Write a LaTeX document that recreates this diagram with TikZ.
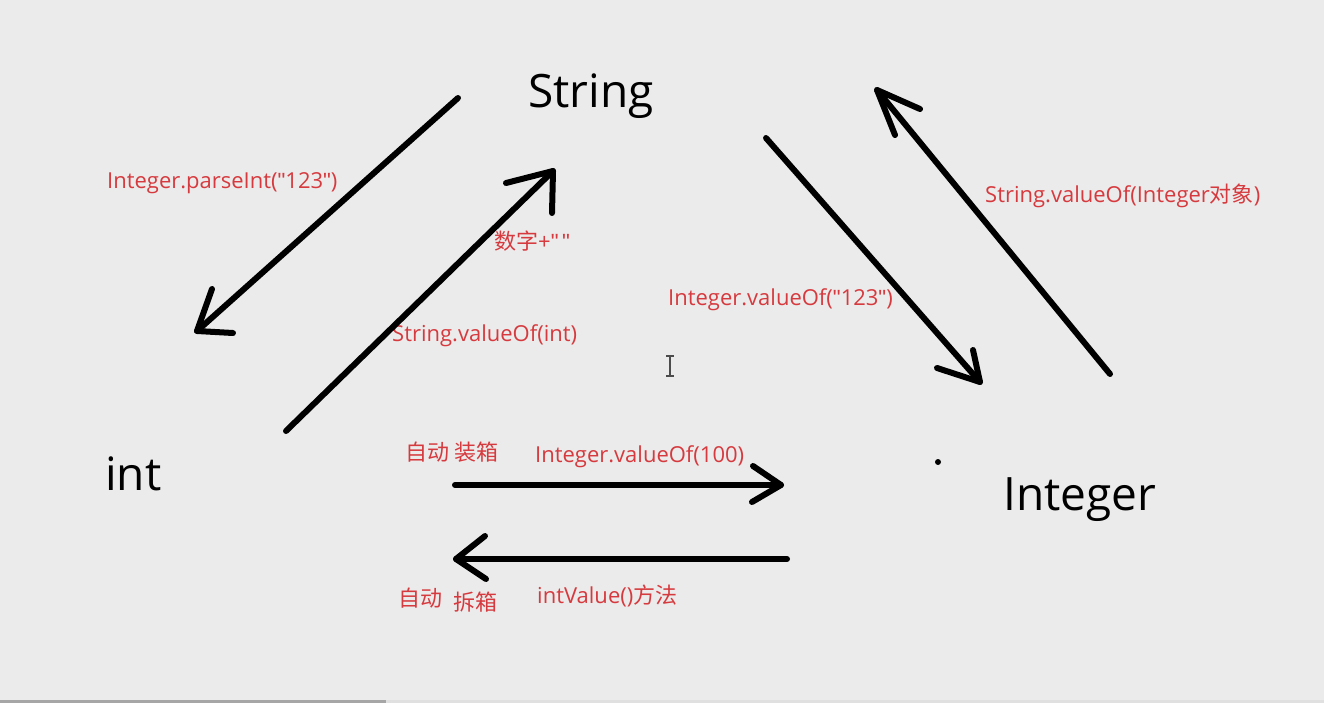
\documentclass[tikz,border=0pt]{standalone}
\usepackage{fontspec}
\setmainfont{Open Sans}
\newfontfamily\cjk{Noto Sans CJK SC}
\newfontfamily\qfont{Liberation Sans}
\newcommand{\dq}{{\qfont\symbol{34}}}
\definecolor{bg}{RGB}{235,235,235}
\definecolor{lblred}{RGB}{214,58,62}
\begin{document}
\begin{tikzpicture}[x=1pt,y=-1pt,
  big/.style={anchor=base west,inner sep=0pt,font=\fontsize{46}{50}\selectfont,text=black},
  lbl/.style={anchor=base west,inner sep=0pt,font=\fontsize{22}{24}\selectfont,text=lblred},
  stroke/.style={line width=6pt,line cap=round,line join=round,black}]
\fill[bg] (0,0) rectangle (1324,703);
\useasboundingbox (0,0) rectangle (1324,703);
\fill[black!35] (0,700) rectangle (386,703);
\fill[black!12] (386,700) rectangle (1324,703);

% main nodes
\node[big] (str) at (528,108) {String};
\node[big] (int) at (105,490) {int};
\node[big] (intg) at (1003,510) {Integer};

% labels
\node[lbl] (l1) at (107,189) {Integer.parseInt(\dq123\dq)};
\node[lbl] (l2) at (494,250) {{\cjk 数字}+\dq\,\dq};
\node[lbl] (l3) at (392,341) {String.valueOf(int)};
\node[lbl] (l4) at (668,305) {Integer.valueOf(\dq123\dq)};
\node[lbl] (l5) at (985,203) {String.valueOf(Integer{\cjk 对象})};
\node[lbl] (l6) at (405,460) {\cjk 自动 装箱};
\node[lbl] (l7) at (535,462) {Integer.valueOf(100)};
\node[lbl] (l8) at (398,606) {\cjk 自动};
\node[lbl] (l9) at (453,610) {\cjk 拆箱};
\node[lbl] (l10) at (537,603) {intValue(){\cjk 方法}};

% arrow 1: String -> int
\coordinate (s1) at (458,98);  \coordinate (t1) at (197,331);
\coordinate (a1) at (212,289); \coordinate (b1) at (233,333);
% arrow 2: int -> String
\coordinate (s2) at (286,431); \coordinate (t2) at (553,171);
\coordinate (a2) at (506,183); \coordinate (b2) at (552,213);
% arrow 3: String -> Integer
\coordinate (s3) at (766,138); \coordinate (t3) at (980,382);
\coordinate (a3) at (973,350); \coordinate (b3) at (937,368);
% arrow 4: Integer -> String
\coordinate (s4) at (1110,374); \coordinate (t4) at (877,90);
\coordinate (a4) at (920,109);  \coordinate (b4) at (895,135);
% arrow 5: int -> Integer
\coordinate (s5) at (455,485); \coordinate (t5) at (781,485);
\coordinate (a5) at (753,466); \coordinate (b5) at (752,502);
% arrow 6: Integer -> int
\coordinate (s6) at (787,559); \coordinate (t6) at (456,559);
\coordinate (a6) at (485,536); \coordinate (b6) at (486,579);

\foreach \i in {1,...,6}{
  \draw[stroke] (s\i) -- (t\i);
  \draw[stroke] (a\i) -- (t\i) -- (b\i);
}

% stray dot and cursor
\fill[black] (938,462) circle (3);
\draw[black!70,line width=1.2pt] (670,356) -- (670,376)
  (666,356) -- (674,356) (666,376) -- (674,376);
\end{tikzpicture}
\end{document}
